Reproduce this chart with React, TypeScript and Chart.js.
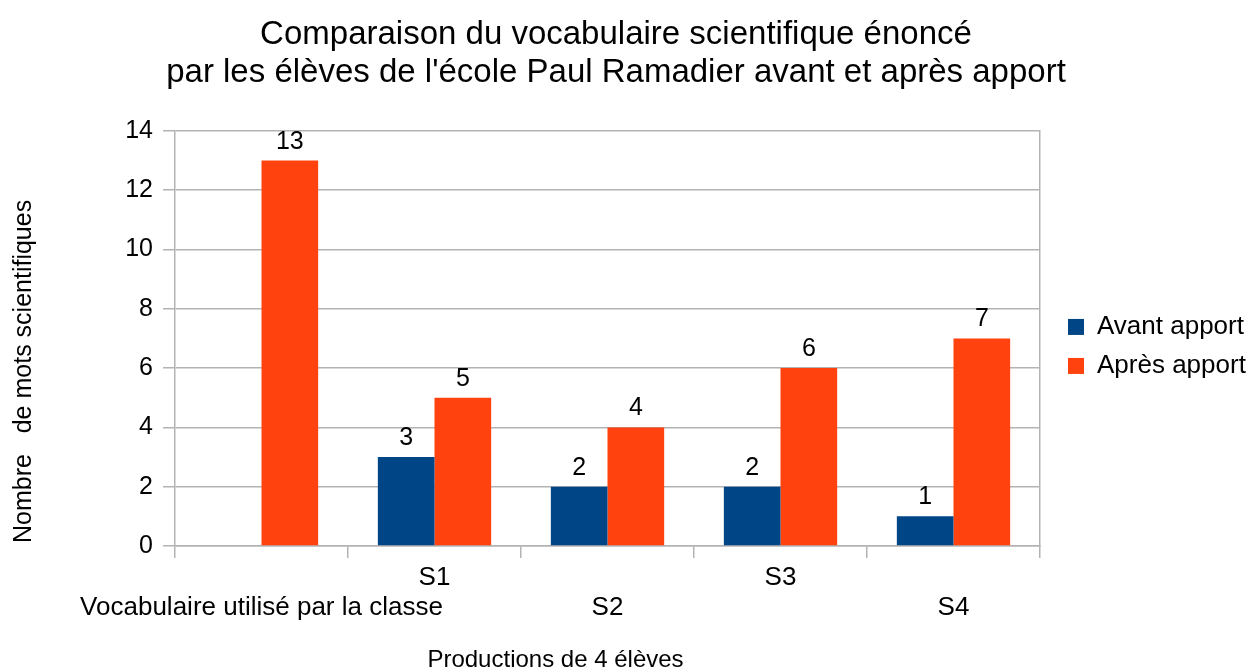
import React, { useEffect, useRef } from 'react';
import { Chart, registerables } from 'chart.js';

Chart.register(...registerables);

const categories = ['Vocabulaire utilisé par la classe', 'S1', 'S2', 'S3', 'S4'];
const labelRows = [1, 0, 1, 0, 1];
const seriesNames = ['Avant apport', 'Après apport'];
const avantApport: (number | null)[] = [null, 3, 2, 2, 1];
const apresApport: number[] = [13, 5, 4, 6, 7];
const seriesColors = ['#004586', '#ff420e'];
const yMin = 0;
const yMax = 14;
const yStep = 2;
const titleLines = [
  'Comparaison du vocabulaire scientifique énoncé',
  "par les élèves de l'école Paul Ramadier avant et après apport",
];
const yAxisTitle = 'Nombre   de mots scientifiques';
const xAxisTitle = 'Productions de 4 élèves';

const FONT = '"Liberation Sans", Arial, sans-serif';
const GRID = '#b3b3b3';
const TEXT = '#000000';

const valueLabels = {
  id: 'valueLabels',
  afterDatasetsDraw(chart: any) {
    const ctx = chart.ctx;
    ctx.save();
    ctx.font = `25px ${FONT}`;
    ctx.fillStyle = TEXT;
    ctx.textAlign = 'center';
    ctx.textBaseline = 'alphabetic';
    chart.data.datasets.forEach((ds: any, i: number) => {
      const meta = chart.getDatasetMeta(i);
      meta.data.forEach((el: any, j: number) => {
        const v = ds.data[j];
        if (v === null || v === undefined) return;
        ctx.fillText(String(v), el.x, el.y - 12);
      });
    });
    ctx.restore();
  },
};

const axisTitles = {
  id: 'axisTitles',
  afterDraw(chart: any) {
    const ctx = chart.ctx;
    const area = chart.chartArea;
    ctx.save();
    ctx.fillStyle = TEXT;
    ctx.textAlign = 'center';
    ctx.textBaseline = 'middle';
    ctx.font = `25px ${FONT}`;
    ctx.translate(24, (area.top + area.bottom) / 2 + 33);
    ctx.rotate(-Math.PI / 2);
    ctx.fillText(yAxisTitle, 0, 0);
    ctx.restore();
    ctx.save();
    ctx.fillStyle = TEXT;
    ctx.textAlign = 'center';
    ctx.textBaseline = 'middle';
    ctx.font = `24px ${FONT}`;
    ctx.fillText(xAxisTitle, area.left + 380.5, area.bottom + 114);
    ctx.restore();
  },
};

export default function App() {
  const ref = useRef<HTMLCanvasElement | null>(null);

  useEffect(() => {
    if (!ref.current) return;
    Chart.defaults.font.family = FONT;
    const labels = categories.map((c, i) => (labelRows[i] ? ['', c] : [c, '']));
    const chart = new Chart(ref.current, {
      type: 'bar',
      data: {
        labels,
        datasets: [
          {
            label: seriesNames[0],
            data: avantApport,
            backgroundColor: seriesColors[0],
            borderWidth: 0,
            categoryPercentage: 0.655,
            barPercentage: 1,
          },
          {
            label: seriesNames[1],
            data: apresApport,
            backgroundColor: seriesColors[1],
            borderWidth: 0,
            categoryPercentage: 0.655,
            barPercentage: 1,
          },
        ],
      },
      options: {
        responsive: false,
        animation: false,
        events: [],
        layout: { padding: { left: -20, right: 0, top: 0, bottom: 0 } },
        scales: {
          x: {
            grid: { drawOnChartArea: false, tickLength: 12, color: GRID, lineWidth: 1.5 },
            border: { color: GRID, width: 1.5 },
            ticks: {
              autoSkip: false,
              maxRotation: 0,
              minRotation: 0,
              padding: 5,
              color: TEXT,
              font: { size: 26, lineHeight: 30 / 26 },
            },
            afterFit(s: any) {
              s.height = 125;
            },
          },
          y: {
            min: yMin,
            max: yMax,
            ticks: { stepSize: yStep, padding: 10, color: TEXT, font: { size: 25 } },
            grid: { color: GRID, tickLength: 12, lineWidth: 1.5 },
            border: { color: GRID, width: 1.5 },
            afterFit(s: any) {
              s.width = 195;
            },
          },
          y2: {
            position: 'right',
            min: yMin,
            max: yMax,
            ticks: { display: false },
            grid: { drawOnChartArea: false, drawTicks: false },
            border: { display: true, color: GRID, width: 1.5 },
            afterFit(s: any) {
              s.width = 15;
            },
          },
        },
        plugins: {
          title: {
            display: true,
            text: titleLines,
            color: TEXT,
            font: { size: 33, weight: 'normal', lineHeight: 1.15 },
            padding: { top: 16, bottom: 39 },
          },
          legend: {
            position: 'right',
            align: 'center',
            fullSize: false,
            maxWidth: 197,
            title: { display: true, text: '', padding: { top: 15, bottom: 0 }, font: { size: 1, lineHeight: 1 } },
            labels: {
              boxWidth: 16,
              boxHeight: 16,
              padding: 13,
              color: TEXT,
              font: { size: 26 },
            },
          },
          tooltip: { enabled: false },
        },
      } as any,
      plugins: [valueLabels, axisTitles],
    });
    return () => chart.destroy();
  }, []);

  return (
    <div style={{ position: 'fixed', left: 0, top: 0, width: 1252, height: 671, background: '#fff' }}>
      <canvas ref={ref} width={1252} height={671} style={{ display: 'block' }} />
    </div>
  );
}
